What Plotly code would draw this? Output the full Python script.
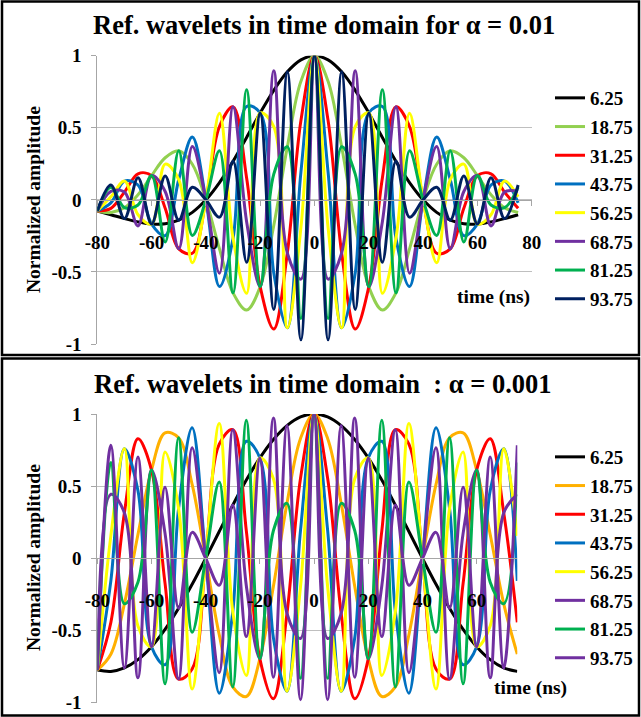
import plotly.graph_objects as go

# time samples (ns)
time_ns = [-80, -75, -70, -65, -60, -55, -50, -45, -40, -35, -30, -25, -20, -15, -10, -5,
           0, 5, 10, 15, 20, 25, 30, 35, 40, 45, 50, 55, 60, 65, 70, 75]

labels = ["6.25", "18.75", "31.25", "43.75", "56.25", "68.75", "81.25", "93.75"]

# alpha = 0.01 panel
top_625 = [-.077, -.103, -.130, -.153, -.168, -.166, -.141, -.087, 0, .120, .267, .433, .603, .760, .888, .971,
           1, .971, .888, .760, .603, .433, .267, .120, 0, -.087, -.141, -.166, -.168, -.153, -.130, -.103]
top_1875 = [-.077, -.088, -.054, .036, .168, .292, .340, .247, 0, -.340, -.645, -.764, -.603, -.178, .368, .823,
            1, .823, .368, -.178, -.603, -.764, -.645, -.340, 0, .247, .340, .292, .168, .036, -.054, -.088]
top_3125 = [-.077, -.059, .054, .181, .168, -.058, -.340, -.370, 0, .509, .645, .152, -.603, -.896, -.368, .550,
            1, .550, -.368, -.896, -.603, .152, .645, .509, 0, -.370, -.340, -.058, .168, .181, .054, -.059]
top_4375 = [-.077, -.021, .130, .103, -.168, -.248, .141, .436, 0, -.601, -.267, .648, .603, -.508, -.888, .193,
            1, .193, -.888, -.508, .603, .648, -.267, -.601, 0, .436, .141, -.248, -.168, .103, .130, -.021]
top_5625 = [-.077, .021, .130, -.103, -.168, .248, .141, -.436, 0, .601, -.267, -.648, .603, .508, -.888, -.193,
            1, -.193, -.888, .508, .603, -.648, -.267, .601, 0, -.436, .141, .248, -.168, -.103, .130, .021]
top_6875 = [-.077, .059, .054, -.181, .168, .058, -.340, .370, 0, -.509, .645, -.152, -.603, .896, -.368, -.550,
            1, -.550, -.368, .896, -.603, -.152, .645, -.509, 0, .370, -.340, .058, .168, -.181, .054, .059]
top_8125 = [-.077, .088, -.054, -.036, .168, -.292, .340, -.247, 0, .340, -.645, .764, -.603, .178, .368, -.823,
            1, -.823, .368, .178, -.603, .764, -.645, .340, 0, -.247, .340, -.292, .168, -.036, -.054, .088]
top_9375 = [-.077, .103, -.130, .153, -.168, .166, -.141, .087, 0, -.120, .267, -.433, .603, -.760, .888, -.971,
            1, -.971, .888, -.760, .603, -.433, .267, -.120, 0, .087, -.141, .166, -.168, .153, -.130, .103]

# alpha = 0.001 panel
bot_625 = [-.774, -.783, -.759, -.702, -.612, -.492, -.346, -.180, 0, .186, .369, .542, .696, .824, .920, .980,
           1, .980, .920, .824, .696, .542, .369, .186, 0, -.180, -.346, -.492, -.612, -.702, -.759, -.783]
bot_1875 = [-.774, -.664, -.315, .165, .612, .869, .836, .512, 0, -.529, -.891, -.957, -.696, -.193, .381, .831,
            1, .831, .381, -.193, -.696, -.957, -.891, -.529, 0, .512, .836, .869, .612, .165, -.315, -.664]
bot_3125 = [-.774, -.444, .315, .828, .612, -.173, -.836, -.767, 0, .792, .891, .190, -.696, -.972, -.381, .555,
            1, .555, -.381, -.972, -.696, .190, .891, .792, 0, -.767, -.836, -.173, .612, .828, .315, -.444]
bot_4375 = [-.774, -.156, .759, .469, -.612, -.737, .346, .905, 0, -.934, -.369, .811, .696, -.551, -.920, .195,
            1, .195, -.920, -.551, .696, .811, -.369, -.934, 0, .905, .346, -.737, -.612, .469, .759, -.156]
bot_5625 = [-.774, .156, .759, -.469, -.612, .737, .346, -.905, 0, .934, -.369, -.811, .696, .551, -.920, -.195,
            1, -.195, -.920, .551, .696, -.811, -.369, .934, 0, -.905, .346, .737, -.612, -.469, .759, .156]
bot_6875 = [-.774, .444, .315, -.828, .612, .173, -.836, .767, 0, -.792, .891, -.190, -.696, .972, -.381, -.555,
            1, -.555, -.381, .972, -.696, -.190, .891, -.792, 0, .767, -.836, .173, .612, -.828, .315, .444]
bot_8125 = [-.774, .664, -.315, -.165, .612, -.869, .836, -.512, 0, .529, -.891, .957, -.696, .193, .381, -.831,
            1, -.831, .381, .193, -.696, .957, -.891, .529, 0, -.512, .836, -.869, .612, -.165, -.315, .664]
bot_9375 = [-.774, .783, -.759, .702, -.612, .492, -.346, .180, 0, -.186, .369, -.542, .696, -.824, .920, -.980,
            1, -.980, .920, -.824, .696, -.542, .369, -.186, 0, .180, -.346, .492, -.612, .702, -.759, .783]

top_series = [top_625, top_1875, top_3125, top_4375, top_5625, top_6875, top_8125, top_9375]
bot_series = [bot_625, bot_1875, bot_3125, bot_4375, bot_5625, bot_6875, bot_8125, bot_9375]

top_colors = ["#000000", "#92D050", "#FF0000", "#0070C0", "#FFFF00", "#7030A0", "#00B050", "#002060"]
bot_colors = ["#000000", "#FFB000", "#FF0000", "#0070C0", "#FFFF00", "#7030A0", "#00B050", "#7030A0"]

x_ticks = [-80, -60, -40, -20, 0, 20, 40, 60, 80]
x_ticktext = ["-80", "-60", "-40", "-20", "0", "20", "40", "60", "80"]
y_ticks = [-1, -0.5, 0, 0.5, 1]
y_ticktext = ["-1", "-0.5", "0", "0.5", "1"]

FONT = "Liberation Serif"
W, H = 641, 717

fig = go.Figure()
for lab, ys, col in zip(labels, top_series, top_colors):
    fig.add_trace(go.Scatter(x=time_ns, y=ys, mode="lines", name=lab,
                             line=dict(color=col, width=3, shape="spline"),
                             xaxis="x", yaxis="y", legend="legend", legendgroup="t" + lab))
for lab, ys, col in zip(labels, bot_series, bot_colors):
    fig.add_trace(go.Scatter(x=time_ns, y=ys, mode="lines", name=lab,
                             line=dict(color=col, width=3, shape="spline"),
                             xaxis="x2", yaxis="y2", legend="legend2", legendgroup="b" + lab))

def px_x(p):
    return p / W

def px_y(p):
    return 1 - p / H

tickfont = dict(family=FONT, size=19, color="black", weight="bold")
axcol = "#a6a6a6"
gridcol = "#bfbfbf"

common_x = dict(tickvals=x_ticks, ticktext=x_ticktext, ticks="outside", ticklen=5, tickcolor=axcol,
                showline=True, linecolor=axcol, linewidth=1, showgrid=False, zeroline=False,
                tickfont=tickfont, ticklabelstandoff=20, anchor="free")
common_y = dict(tickvals=y_ticks, ticktext=y_ticktext, range=[-1, 1], ticks="outside", ticklen=5,
                tickcolor=axcol, showline=True, linecolor=axcol, linewidth=1, showgrid=True,
                gridcolor=gridcol, gridwidth=1, zeroline=False, tickfont=tickfont, ticklabelstandoff=6)

top_dom_y = [px_y(344), px_y(55.7)]
bot_dom_y = [px_y(702.7), px_y(414)]

legend_font = dict(family=FONT, size=19, color="black", weight="bold")

fig.update_layout(
    width=W, height=H,
    margin=dict(l=0, r=0, t=0, b=0, pad=0, autoexpand=False),
    paper_bgcolor="white", plot_bgcolor="white",
    hovermode=False,
    xaxis=dict(domain=[px_x(97.3), px_x(531.7)], range=[-80, 80],
               position=(top_dom_y[0] + top_dom_y[1]) / 2, **common_x),
    yaxis=dict(domain=top_dom_y, anchor="x", **common_y),
    xaxis2=dict(domain=[px_x(97.3), px_x(517.3)], range=[-80, 75],
                position=(bot_dom_y[0] + bot_dom_y[1]) / 2, **common_x),
    yaxis2=dict(domain=bot_dom_y, anchor="x2", **common_y),
    legend=dict(x=px_x(550), y=px_y(198.5), xanchor="left", yanchor="middle",
                font=legend_font, bgcolor="rgba(0,0,0,0)", tracegroupgap=1, itemwidth=30),
    legend2=dict(x=px_x(550), y=px_y(557.5), xanchor="left", yanchor="middle",
                 font=legend_font, bgcolor="rgba(0,0,0,0)", tracegroupgap=1, itemwidth=30),
    showlegend=True,
)

title_font = dict(family=FONT, size=26.5, color="black", weight="bold")
lab_font = dict(family=FONT, size=19.5, color="black", weight="bold")
fig.add_annotation(text="Ref. wavelets in time domain for α = 0.01", x=px_x(324), y=px_y(25),
                   xref="paper", yref="paper", showarrow=False, font=title_font,
                   xanchor="center", yanchor="middle")
fig.add_annotation(text="Ref. wavelets in time domain\u00a0 : α = 0.001", x=px_x(323.4), y=px_y(384),
                   xref="paper", yref="paper", showarrow=False, font=title_font,
                   xanchor="center", yanchor="middle")
fig.add_annotation(text="Normalized amplitude", x=px_x(33), y=px_y(200), textangle=-90,
                   xref="paper", yref="paper", showarrow=False, font=lab_font,
                   xanchor="center", yanchor="middle")
fig.add_annotation(text="Normalized amplitude", x=px_x(33), y=px_y(558), textangle=-90,
                   xref="paper", yref="paper", showarrow=False, font=lab_font,
                   xanchor="center", yanchor="middle")
fig.add_annotation(text="time (ns)", x=px_x(493), y=px_y(297),
                   xref="paper", yref="paper", showarrow=False, font=lab_font,
                   xanchor="center", yanchor="middle")
fig.add_annotation(text="time (ns)", x=px_x(530.5), y=px_y(688),
                   xref="paper", yref="paper", showarrow=False, font=lab_font,
                   xanchor="center", yanchor="middle")

# panel borders
for (y0, y1) in [(1.5, 355), (358.5, 715.5)]:
    fig.add_shape(type="rect", xref="paper", yref="paper",
                  x0=px_x(2), x1=px_x(639), y0=px_y(y1), y1=px_y(y0),
                  line=dict(color="black", width=2.5), fillcolor="rgba(0,0,0,0)")

fig.write_html("out.html", config={"displayModeBar": False, "staticPlot": True},
               post_script="document.body.style.margin='0px';")
